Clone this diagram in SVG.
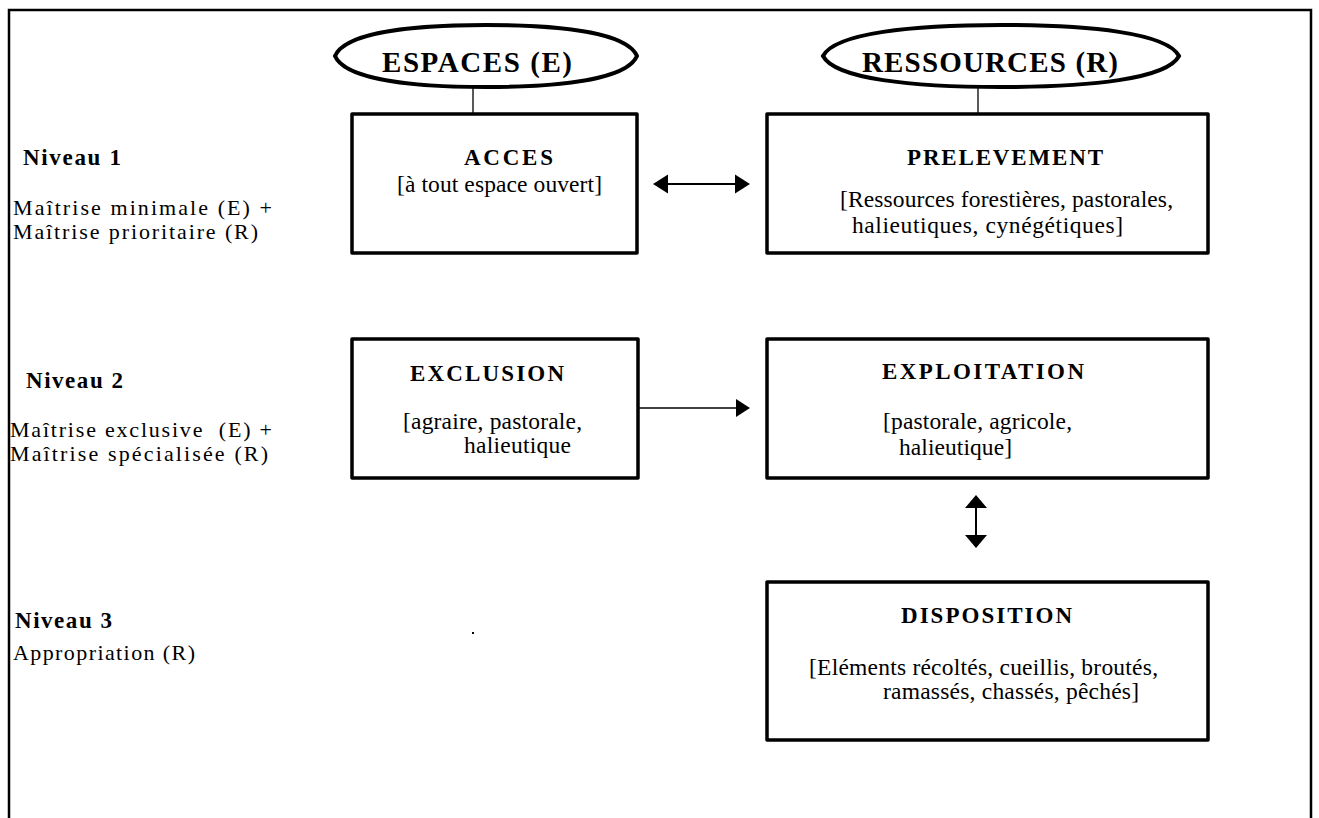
<svg xmlns="http://www.w3.org/2000/svg" width="1319" height="818" viewBox="0 0 1319 818">
  <style>
    .frame { fill: none; stroke: #000; stroke-width: 2.5; }
    .box { fill: #fff; stroke: #000; stroke-width: 3.5; stroke-linejoin: round; }
    .oval { fill: #fff; stroke: #000; stroke-width: 4; }
    .link { stroke: #000; stroke-width: 1.3; fill: none; }
    .arrow { stroke: #000; stroke-width: 2; fill: none; }
    .head { fill: #000; }
    text { font-family: "Liberation Serif", "Times New Roman", serif; fill: #000; }
    .ttl { font-weight: bold; font-size: 23px; }
    .big { font-weight: bold; font-size: 29px; }
    .body { font-size: 23.5px; }
    .side { font-size: 22px; }
  </style>

  <!-- page frame (open at the bottom) -->
  <g id="frame">
    <path class="frame" d="M9 818 V10 H1311 V818"/>
  </g>

  <!-- connectors -->
  <g id="connectors">
    <!-- ovals down to level-1 boxes -->
    <line class="link" x1="473" y1="87" x2="473" y2="114"/>
    <line class="link" x1="978" y1="87" x2="978" y2="114"/>

    <!-- ACCES <-> PRELEVEMENT -->
    <line class="arrow" x1="665" y1="184" x2="738" y2="184"/>
    <polygon class="head" points="653,184 668,174.5 668,193.5"/>
    <polygon class="head" points="750,184 735,174.5 735,193.5"/>

    <!-- EXCLUSION -> EXPLOITATION -->
    <line class="link" x1="638" y1="408" x2="738" y2="408"/>
    <polygon class="head" points="750,408 736,399 736,417"/>

    <!-- EXPLOITATION <-> DISPOSITION -->
    <line class="arrow" x1="976" y1="506" x2="976" y2="537"/>
    <polygon class="head" points="976,495 965,508 987,508"/>
    <polygon class="head" points="976,548 965,535 987,535"/>
  </g>

  <!-- headings: slightly pointed ovals -->
  <g id="espaces">
    <path class="oval" d="M335,56 C345,33 410,25 486,25 C562,25 627,33 637,56 C627,79 562,87 486,87 C410,87 345,79 335,56 Z"/>
    <text class="big" x="382" y="72" textLength="190" lengthAdjust="spacing">ESPACES (E)</text>
  </g>
  <g id="ressources">
    <path class="oval" d="M823,56 C835,33 912,25 1001,25 C1090,25 1167,33 1179,56 C1167,79 1090,87 1001,87 C912,87 835,79 823,56 Z"/>
    <text class="big" x="862" y="72" textLength="256" lengthAdjust="spacing">RESSOURCES (R)</text>
  </g>

  <!-- level labels -->
  <g id="niveau1">
    <text class="ttl" x="23" y="165" textLength="98" lengthAdjust="spacing">Niveau 1</text>
    <text class="side" x="13" y="215" textLength="259" lengthAdjust="spacing">Maîtrise minimale (E) +</text>
    <text class="side" x="13" y="239" textLength="245" lengthAdjust="spacing">Maîtrise prioritaire (R)</text>
  </g>
  <g id="niveau2">
    <text class="ttl" x="26" y="388" textLength="97" lengthAdjust="spacing">Niveau 2</text>
    <text class="side" x="10" y="437" textLength="262" lengthAdjust="spacing" xml:space="preserve">Maîtrise exclusive  (E) +</text>
    <text class="side" x="10" y="461" textLength="258" lengthAdjust="spacing">Maîtrise spécialisée (R)</text>
  </g>
  <g id="niveau3">
    <text class="ttl" x="15" y="628" textLength="97" lengthAdjust="spacing">Niveau 3</text>
    <text class="side" x="13" y="660" textLength="182" lengthAdjust="spacing">Appropriation (R)</text>
    <rect x="472" y="632" width="2" height="2" fill="#000"/>
  </g>

  <!-- boxes -->
  <g id="acces">
    <rect class="box" x="352" y="114" width="285" height="139"/>
    <text class="ttl" x="464" y="165" textLength="89" lengthAdjust="spacing">ACCES</text>
    <text class="body" x="397" y="192" textLength="205" lengthAdjust="spacing">[à tout espace ouvert]</text>
  </g>

  <g id="prelevement">
    <rect class="box" x="767" y="114" width="441" height="139"/>
    <text class="ttl" x="907" y="165" textLength="196" lengthAdjust="spacing">PRELEVEMENT</text>
    <text class="body" x="840" y="207" textLength="333" lengthAdjust="spacing">[Ressources forestières, pastorales,</text>
    <text class="body" x="852" y="233" textLength="271" lengthAdjust="spacing">halieutiques, cynégétiques]</text>
  </g>

  <g id="exclusion">
    <rect class="box" x="352" y="339" width="286" height="139"/>
    <text class="ttl" x="410" y="381" textLength="154" lengthAdjust="spacing">EXCLUSION</text>
    <text class="body" x="403" y="429" textLength="179" lengthAdjust="spacing">[agraire, pastorale,</text>
    <text class="body" x="464" y="453" textLength="107" lengthAdjust="spacing">halieutique</text>
  </g>

  <g id="exploitation">
    <rect class="box" x="767" y="339" width="441" height="139"/>
    <text class="ttl" x="882" y="379" textLength="202" lengthAdjust="spacing">EXPLOITATION</text>
    <text class="body" x="883" y="429" textLength="189" lengthAdjust="spacing">[pastorale, agricole,</text>
    <text class="body" x="899" y="455" textLength="113" lengthAdjust="spacing">halieutique]</text>
  </g>

  <g id="disposition">
    <rect class="box" x="767" y="582" width="441" height="158"/>
    <text class="ttl" x="901" y="623" textLength="171" lengthAdjust="spacing">DISPOSITION</text>
    <text class="body" x="809" y="675" textLength="349" lengthAdjust="spacing">[Eléments récoltés, cueillis, broutés,</text>
    <text class="body" x="883" y="699" textLength="256" lengthAdjust="spacing">ramassés, chassés, pêchés]</text>
  </g>
</svg>
